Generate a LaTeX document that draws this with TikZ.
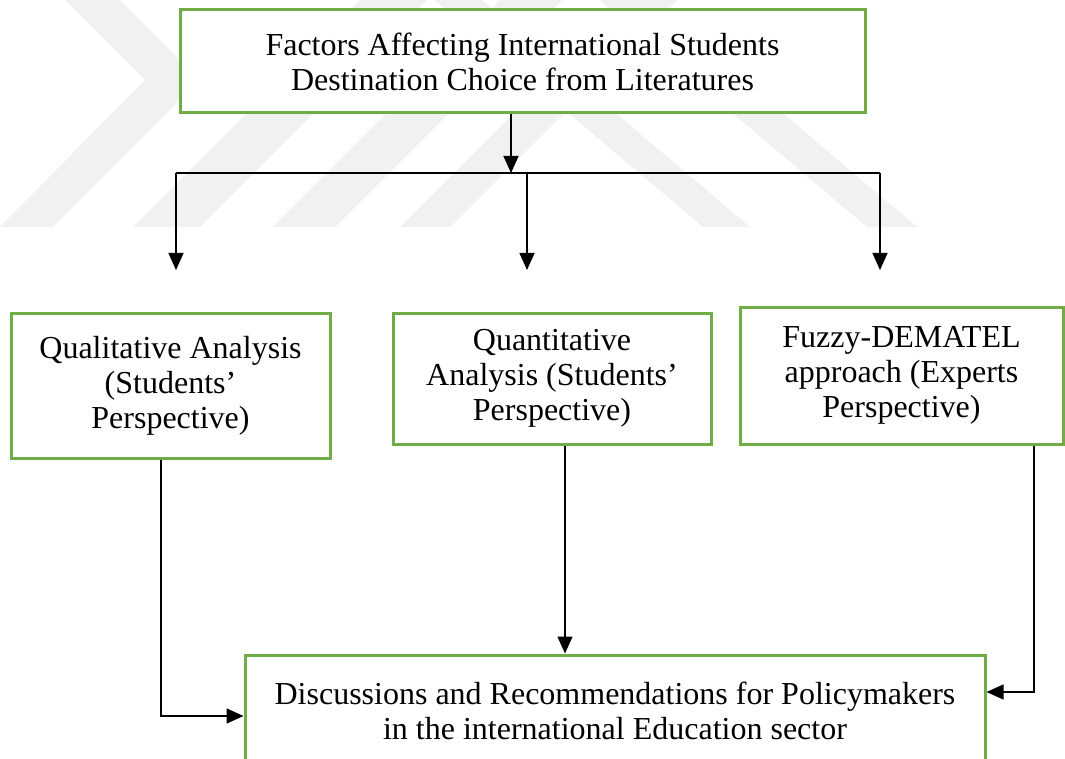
\documentclass[tikz,border=0pt]{standalone}
\usepackage{fontspec}
\setmainfont{Liberation Serif}
\usetikzlibrary{arrows.meta}
\definecolor{boxgreen}{RGB}{112,173,71}
\definecolor{markgray}{RGB}{241,241,241}

\begin{document}
\begin{tikzpicture}[x=1pt,y=-1pt,
  stage/.style={draw=boxgreen, line width=3pt, fill=white, align=center,
    inner sep=0pt, font=\fontsize{32}{35}\selectfont},
  wire/.style={line width=1.3pt},
  link/.style={wire, -{Triangle[length=17pt,width=15pt]}},
  band/.style={fill=markgray}]
\clip (0,0) rectangle (1065,759);
\fill[white] (0,0) rectangle (1065,759);

% faint background emblem
\begin{scope}
  \clip (0,0) rectangle (1065,227);
  \fill[band] (65,0) -- (120,0) -- (200,80) -- (53,227) -- (0,227) -- (145,80) -- cycle;
  \fill[band] (133,227) -- (200,227) -- (427,0) -- (360,0) -- cycle;
  \fill[band] (273,227) -- (335,227) -- (562,0) -- (500,0) -- cycle;
  \fill[band] (400,227) -- (450,227) -- (677,0) -- (627,0) -- cycle;
  \fill[band] (703,227) -- (750,227) -- (482,0) -- (435,0) -- cycle;
  \fill[band] (867,227) -- (917,227) -- (649,0) -- (599,0) -- cycle;
\end{scope}

% boxes
\node[stage, minimum width=685pt, minimum height=103pt] (top) at (522.5,61.5)
  {Factors Affecting International Students\\Destination Choice from Literatures};
\node[stage, minimum width=319pt, minimum height=145pt] (qual) at (170.5,385.5)
  {Qualitative Analysis\\(Students’\\Perspective)};
\node[stage, minimum width=318pt, minimum height=131pt] (quant) at (552,378.5)
  {Quantitative\\Analysis (Students’\\Perspective)};
\node[stage, minimum width=323pt, minimum height=137pt] (fuzzy) at (901.5,375.5)
  {Fuzzy-DEMATEL\\approach (Experts\\Perspective)};
\node[stage, minimum width=740pt, minimum height=112pt] (final) at (615,711)
  {Discussions and Recommendations for Policymakers\\in the international Education sector};

% distribution from the top box
\coordinate (split) at (511,173);
\coordinate (lft) at (176,173);
\coordinate (mid) at (527,173);
\coordinate (rgt) at (880,173);
\coordinate (lftend) at (176,270);
\coordinate (midend) at (527,270);
\coordinate (rgtend) at (880,270);
\draw[link] (top.south -| split) -- (split);
\draw[wire] (lft) -- (rgt);
\draw[link] (lft) -- (lftend);
\draw[link] (mid) -- (midend);
\draw[link] (rgt) -- (rgtend);

% collection into the final box
\coordinate (qualbend) at (161,716);
\coordinate (quantdrop) at (565,655);
\coordinate (fuzzybend) at (1034,692);
\draw[link] (qual.south -| qualbend) -- (qualbend) -- (qualbend -| final.west);
\draw[link] (quant.south -| quantdrop) -- (quantdrop |- final.north);
\draw[link] (fuzzy.south -| fuzzybend) -- (fuzzybend) -- (fuzzybend -| final.east);
\end{tikzpicture}
\end{document}
